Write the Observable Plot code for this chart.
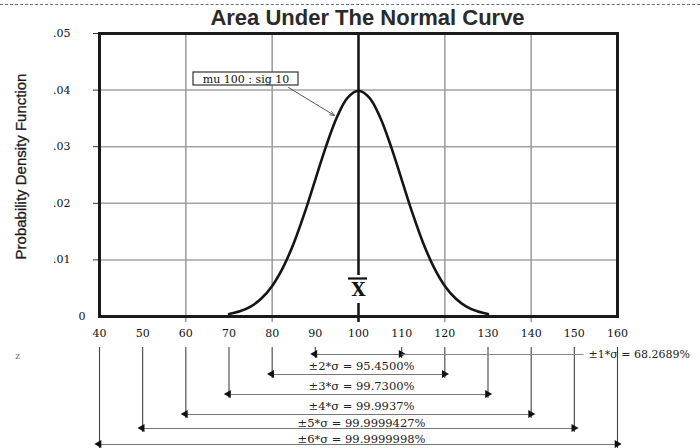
<!DOCTYPE html>
<html>
<head>
<meta charset="utf-8">
<script src="https://cdn.jsdelivr.net/npm/d3@7"></script>
<script src="https://cdn.jsdelivr.net/npm/@observablehq/plot@0.6"></script>
<style>
  body { margin: 0; background: #fff; }
  #wrap { position: relative; width: 700px; height: 448px; overflow: hidden; }
  #dash { position: absolute; top: 4px; left: 0; width: 700px; height: 0; border-top: 1px dashed #5f6f8a; }
  svg { display: block; }
</style>
</head>
<body>
<div id="wrap"><div id="dash"></div></div>
<script>
// ---------- data ----------
const titleText = "Area Under The Normal Curve";
const yLabelText = "Probability Density Function";
const xTickValues = [40, 50, 60, 70, 80, 90, 100, 110, 120, 130, 140, 150, 160];
const xGridValues = [60, 80, 120, 140];
const yTickValues = [0.01, 0.02, 0.03, 0.04, 0.05];
const yTickLabels = [".01", ".02", ".03", ".04", ".05"];
const yGridValues = [0.01, 0.02, 0.03, 0.04];
const zeroLabel = "0";
const mu = 100;
const sigma = 10;
const annotationText = "mu 100 : sig 10";
const meanSymbol = "X";
// density
const curveX = [70, 72.5, 75, 77.5, 80, 82.5, 85, 87.5, 90, 92.5, 95, 97.5, 100,
                102.5, 105, 107.5, 110, 112.5, 115, 117.5, 120, 122.5, 125, 127.5, 130];
const curveY = [0.00044, 0.00091, 0.00175, 0.00317, 0.00540, 0.00863, 0.01295, 0.01826, 0.02420,
                0.03011, 0.03521, 0.03867, 0.03989, 0.03867, 0.03521, 0.03011, 0.02420, 0.01826,
                0.01295, 0.00863, 0.00540, 0.00317, 0.00175, 0.00091, 0.00044];
const sigmaMultiples = [1, 2, 3, 4, 5, 6];
const coverage = ["68.2689%", "95.4500%", "99.7300%", "99.9937%", "99.9999427%", "99.9999998%"];

// ---------- layout (page pixels) ----------
const W = 700, H = 448;
const FL = 99, FR = 617, FT = 33, FB = 316;
const px2x = px => 40 + (px - FL) * 120 / (FR - FL);
const px2y = py => 0.05 * (FB - py) / (FB - FT);
const rowArrowPx = [354, 374, 394, 414, 428, 444];
const rowLabelPx = [354, 366, 386, 406, 423, 439];
const bracketTopPx = 347;

const curve = curveX.map((x, i) => ({x, y: curveY[i]}));
const rows = sigmaMultiples.map((k, i) => ({
  k, lo: mu - k * sigma, hi: mu + k * sigma,
  label: `±${k}*σ = ${coverage[i]}`,
  ay: px2y(rowArrowPx[i]), ly: px2y(rowLabelPx[i]), vb: px2y(rowArrowPx[i] + 4)
}));
const verticals = rows.flatMap(r => [{x: r.lo, y2: r.vb}, {x: r.hi, y2: r.vb}]);
const heads = rows.flatMap(r => [{x: r.lo, y: r.ay, rot: -90, dx: 5}, {x: r.hi, y: r.ay, rot: 90, dx: -5}]);
const yBelow = px2y(322);

const serif = "DejaVu Serif";

const chart = Plot.plot({
  width: W, height: H,
  marginLeft: FL, marginRight: W - FR, marginTop: FT, marginBottom: H - FB,
  x: {domain: [40, 160]},
  y: {domain: [0, 0.05]},
  style: {fontFamily: serif, fontSize: "11px", color: "#111", background: "white", overflow: "visible"},
  marks: [
    // grid
    Plot.ruleY(yGridValues, {stroke: "#a3a3a3", strokeWidth: 1.5}),
    Plot.ruleX(xGridValues, {y1: yBelow, y2: 0.05, stroke: "#9a9a9a", strokeWidth: 1.5}),
    // center line with gap for X-bar
    Plot.ruleX([mu], {y1: yBelow, y2: px2y(303), stroke: "#111", strokeWidth: 2.5}),
    Plot.ruleX([mu], {y1: px2y(275), y2: 0.05, stroke: "#111", strokeWidth: 2.5}),
    // axes
    Plot.axisY(yTickValues, {tickSize: 6, tickPadding: 23, stroke: "#333",
      tickFormat: d => yTickLabels[yTickValues.indexOf(d)], fontFamily: serif, fontSize: 11, fill: "#111"}),
    Plot.axisY([0], {tickSize: 0, tickPadding: 14, tickFormat: () => zeroLabel, fontFamily: serif, fontSize: 11, fill: "#111"}),
    Plot.axisX(xTickValues, {tickSize: 0, tickPadding: 13, tickFormat: d => String(d), fontFamily: serif, fontSize: 11, fill: "#111"}),
    // y label
    Plot.text([yLabelText], {x: px2x(21), y: px2y(166), rotate: -90, fontFamily: "Liberation Sans",
      fontSize: 15, fill: "#1a1a1a", stroke: "#1a1a1a", strokeWidth: 0.3, textAnchor: "middle"}),
    // title
    Plot.text([titleText], {frameAnchor: "top", dx: 9, dy: -8.5, lineAnchor: "bottom",
      fontFamily: "Liberation Sans", fontWeight: "bold", fontSize: 22, fill: "#2a2a2a"}),
    // curve
    Plot.line(curve, {x: "x", y: "y", curve: "catmull-rom", stroke: "#151515", strokeWidth: 2.6}),
    // X-bar
    Plot.text([meanSymbol], {x: mu, y: px2y(289.5), fontFamily: serif, fontWeight: "bold", fontSize: 18, fill: "#111"}),
    Plot.ruleY([px2y(278)], {x1: px2x(348), x2: px2x(367), stroke: "#111", strokeWidth: 2.2}),
    // annotation box
    Plot.rect([0], {x1: px2x(193), x2: px2x(298), y1: px2y(85), y2: px2y(72), fill: "white", stroke: "#333", strokeWidth: 1.2}),
    Plot.text([annotationText], {x: px2x(245.5), y: px2y(78.5), fontFamily: serif, fontSize: 11, fill: "#111"}),
    Plot.arrow([0], {x1: px2x(288), y1: px2y(87), x2: px2x(334), y2: px2y(115), stroke: "#555",
      strokeWidth: 1, headLength: 7, headAngle: 45}),
    // frame
    Plot.frame({stroke: "#1a1a1a", strokeWidth: 3}),
    // bracket verticals
    Plot.ruleX(verticals, {x: "x", y1: px2y(bracketTopPx), y2: "y2", stroke: "#444", strokeWidth: 1.1}),
    // double arrows
    Plot.link(rows, {x1: "lo", x2: "hi", y1: "ay", y2: "ay", stroke: "#777", strokeWidth: 1}),
    Plot.dot(heads, {x: "x", y: "y", symbol: "triangle", r: 3, rotate: "rot", dx: "dx", fill: "#111", stroke: "none"}),
    // leader for ±1σ
    Plot.link([rows[0]], {x1: "hi", x2: px2x(583), y1: "ay", y2: "ay", stroke: "#888", strokeWidth: 1}),
    Plot.text([rows[0]], {x: px2x(588), y: "ly", text: "label", textAnchor: "start", fontFamily: serif, fontSize: 11, fill: "#222"}),
    Plot.text(rows.slice(1), {x: mu, dx: 3, y: "ly", text: "label", fontFamily: serif, fontSize: 11.5, fill: "#222"}),
    // stray mark at left
    Plot.text(["z"], {x: px2x(17), y: px2y(356), fontFamily: serif, fontSize: 9, fill: "#777"})
  ]
});
document.getElementById("wrap").prepend(chart);
</script>
</body>
</html>
